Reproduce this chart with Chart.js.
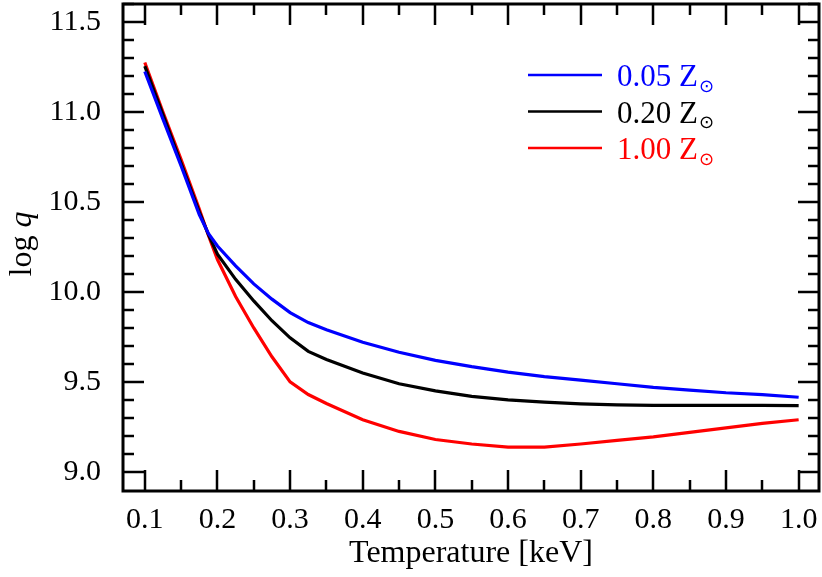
<!DOCTYPE html>
<html>
<head>
<meta charset="utf-8">
<script src="https://cdn.jsdelivr.net/npm/chart.js@4.4.1/dist/chart.umd.min.js"></script>
<style>
html, body { margin: 0; padding: 0; background: #fff; }
canvas { display: block; }
</style>
</head>
<body>
<canvas id="chart" width="822" height="577"></canvas>
<script>
const temperature = [0.1, 0.125, 0.15, 0.175, 0.1875, 0.2, 0.225, 0.25, 0.275, 0.3, 0.325, 0.35, 0.4,
    0.45, 0.5, 0.55, 0.6, 0.65, 0.7, 0.75, 0.8, 0.85, 0.9, 0.95, 1.0];
const logqZ005 = [11.225, 10.96, 10.70, 10.43, 10.325, 10.255, 10.145, 10.045, 9.96, 9.885, 9.83, 9.79, 9.72,
    9.665, 9.62, 9.585, 9.555, 9.53, 9.51, 9.49, 9.47, 9.455, 9.44, 9.43, 9.415];
const logqZ020 = [11.255, 10.985, 10.715, 10.445, 10.32, 10.21, 10.07, 9.95, 9.84, 9.745, 9.67, 9.625, 9.55,
    9.49, 9.45, 9.42, 9.40, 9.388, 9.378, 9.372, 9.37, 9.37, 9.37, 9.37, 9.368];
const logqZ100 = [11.275, 11.0, 10.735, 10.46, 10.315, 10.18, 9.975, 9.80, 9.64, 9.50, 9.43, 9.38, 9.29,
    9.225, 9.18, 9.155, 9.138, 9.138, 9.155, 9.175, 9.195, 9.22, 9.245, 9.27, 9.29];

const seriesNames = ['0.05 Z', '0.20 Z', '1.00 Z'];
const seriesColors = ['#0000ff', '#000000', '#ff0000'];

const xTicks = [0.1, 0.2, 0.3, 0.4, 0.5, 0.6, 0.7, 0.8, 0.9, 1.0];
const yTicks = [9.0, 9.5, 10.0, 10.5, 11.0, 11.5];
const xMinorStep = 0.05;
const yMinorStep = 0.1;

const serif = "'Liberation Serif', 'Times New Roman', serif";

function toPoints(values) {
    return temperature.map((t, i) => ({ x: t, y: values[i] }));
}

function noPadding(scale) {
    scale.paddingLeft = 0;
    scale.paddingRight = 0;
    scale.paddingTop = 0;
    scale.paddingBottom = 0;
}

// inward ticks on all four sides plus the box
const frameTicks = {
    id: 'frameTicks',
    afterDatasetsDraw(chart) {
        const { ctx, chartArea: a, scales: { x, y } } = chart;
        ctx.save();
        ctx.strokeStyle = '#000';
        ctx.lineWidth = 2.5;
        ctx.beginPath();
        for (let v = xTicks[0]; v <= x.max + 1e-9; v += xMinorStep) {
            const major = xTicks.some(t => Math.abs(t - v) < 1e-6);
            const len = major ? 21 : 11;
            const px = Math.round(x.getPixelForValue(v));
            ctx.moveTo(px, a.bottom); ctx.lineTo(px, a.bottom - len);
            ctx.moveTo(px, a.top); ctx.lineTo(px, a.top + len);
        }
        for (let v = yTicks[0]; v <= y.max + 1e-9; v += yMinorStep) {
            const major = yTicks.some(t => Math.abs(t - v) < 1e-6);
            const len = major ? 21 : 11;
            const py = Math.round(y.getPixelForValue(v));
            ctx.moveTo(a.left, py); ctx.lineTo(a.left + len, py);
            ctx.moveTo(a.right, py); ctx.lineTo(a.right - len, py);
        }
        ctx.stroke();
        ctx.lineWidth = 3;
        ctx.strokeRect(a.left, a.top, a.right - a.left, a.bottom - a.top);
        ctx.restore();
    }
};

// legend with subscript sun symbol, y axis title with italic q
const labelsPlugin = {
    id: 'labelsPlugin',
    afterDraw(chart) {
        const { ctx } = chart;
        ctx.save();
        chart.data.datasets.forEach((ds, i) => {
            const ly = 75 + i * 36.5;
            ctx.strokeStyle = ds.borderColor;
            ctx.lineWidth = 2.5;
            ctx.beginPath();
            ctx.moveTo(528, ly);
            ctx.lineTo(602, ly);
            ctx.stroke();
            ctx.fillStyle = ds.borderColor;
            ctx.textBaseline = 'alphabetic';
            ctx.textAlign = 'left';
            ctx.font = '31px ' + serif;
            ctx.fillText(ds.label, 617, ly + 11);
            const w = ctx.measureText(ds.label).width;
            ctx.font = "18px 'DejaVu Sans'";
            ctx.textBaseline = 'middle';
            ctx.fillText('\u2299', 617 + w + 1, ly + 12);
        });

        ctx.translate(31, 244);
        ctx.rotate(-Math.PI / 2);
        ctx.fillStyle = '#000';
        ctx.textBaseline = 'alphabetic';
        ctx.textAlign = 'left';
        ctx.font = '32px ' + serif;
        const w1 = ctx.measureText('log ').width;
        ctx.font = 'italic 32px ' + serif;
        const w2 = ctx.measureText('q').width;
        const start = -(w1 + w2) / 2;
        ctx.font = '32px ' + serif;
        ctx.fillText('log ', start, 0);
        ctx.font = 'italic 32px ' + serif;
        ctx.fillText('q', start + w1, 0);
        ctx.restore();
    }
};

const datasets = [logqZ005, logqZ020, logqZ100].map((vals, i) => ({
    label: seriesNames[i],
    data: toPoints(vals),
    borderColor: seriesColors[i],
    backgroundColor: seriesColors[i],
    borderWidth: 3.2,
    pointRadius: 0,
    tension: 0,
    fill: false
}));

new Chart(document.getElementById('chart'), {
    type: 'line',
    data: { datasets: datasets },
    options: {
        responsive: false,
        animation: false,
        events: [],
        layout: { padding: { top: 4, right: 3, left: 0, bottom: 0 } },
        plugins: {
            legend: { display: false },
            tooltip: { enabled: false }
        },
        scales: {
            x: {
                type: 'linear',
                min: 0.07,
                max: 1.028,
                afterBuildTicks: scale => { scale.ticks = xTicks.map(v => ({ value: v })); },
                afterFit: scale => { scale.height = 86; noPadding(scale); },
                grid: { display: false, drawTicks: false },
                border: { display: false },
                ticks: {
                    autoSkip: false,
                    maxRotation: 0,
                    padding: 11,
                    color: '#000',
                    font: { family: serif, size: 30 },
                    callback: v => v.toFixed(1)
                },
                title: {
                    display: true,
                    text: 'Temperature [keV]',
                    color: '#000',
                    font: { family: serif, size: 32 },
                    padding: { top: 0, bottom: 4 }
                }
            },
            y: {
                type: 'linear',
                min: 8.894,
                max: 11.6,
                afterBuildTicks: scale => { scale.ticks = yTicks.map(v => ({ value: v })); },
                afterFit: scale => { scale.width = 123; noPadding(scale); },
                grid: { display: false, drawTicks: false },
                border: { display: false },
                ticks: {
                    padding: 22,
                    color: '#000',
                    font: { family: serif, size: 30 },
                    callback: v => v.toFixed(1)
                }
            }
        }
    },
    plugins: [frameTicks, labelsPlugin]
});
</script>
</body>
</html>
